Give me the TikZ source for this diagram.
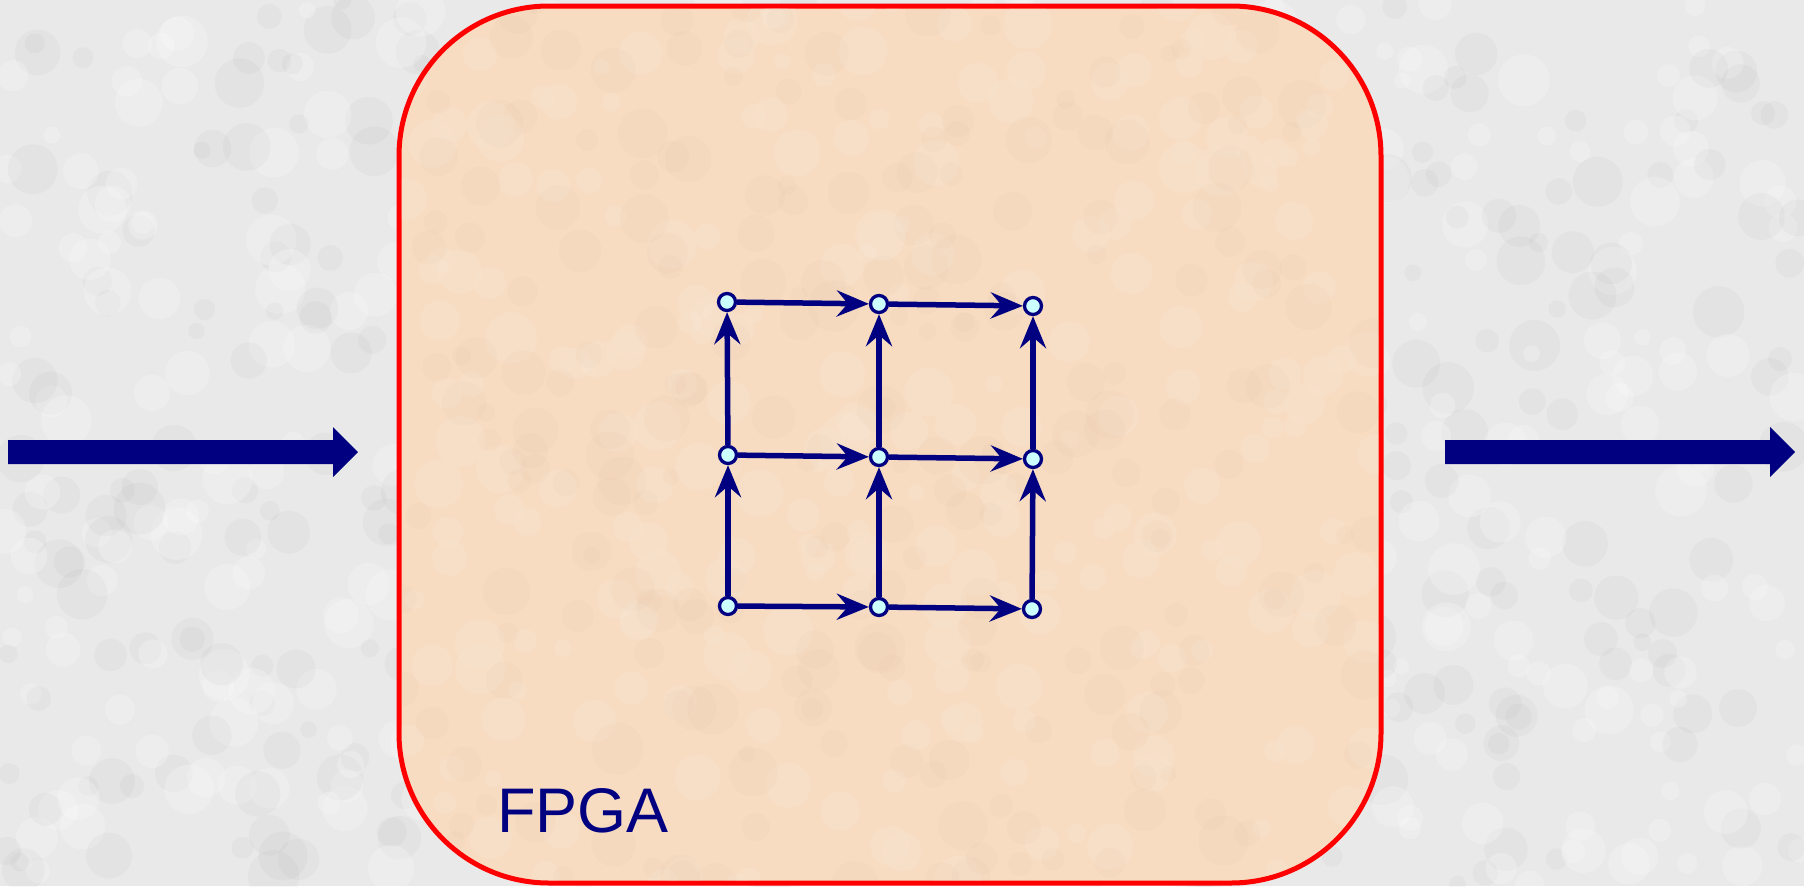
\documentclass[tikz,border=0pt]{standalone}
\usepackage{fontspec}
\setmainfont{Liberation Sans}
\usetikzlibrary{arrows.meta}
\definecolor{navy}{HTML}{000080}
\definecolor{peach}{HTML}{F7DCC2}
\definecolor{tan}{HTML}{D9B896}
\definecolor{bggray}{HTML}{E9E9E9}
\definecolor{dotfill}{HTML}{CCFFFF}
\tikzset{
  pt/.style={circle, draw=navy, fill=dotfill, line width=3.3pt, minimum size=17pt, inner sep=0pt},
  link/.style={draw=navy, line width=5.5pt, -{Stealth[length=32pt, width=26pt, inset=11pt]}},
  bigarrow/.style={fill=navy, draw=none},
  board/.style={draw=red, line width=5pt, fill=peach, rounded corners=150pt}
}
\begin{document}
\begin{tikzpicture}[x=1pt,y=-1pt]
\useasboundingbox (0,0) rectangle (1804,886);
\fill[bggray] (0,0) rectangle (1804,886);
\pgfmathsetseed{7}
\foreach \i in {1,...,900}{
  \pgfmathsetmacro{\px}{rnd*1804}
  \pgfmathsetmacro{\py}{rnd*886}
  \pgfmathsetmacro{\pr}{8+rnd*18}
  \pgfmathsetmacro{\pg}{rnd>0.5 ? 1 : 0}
  \ifdim\pg pt>0.5pt
    \fill[white, opacity=0.22] (\px,\py) circle[radius=\pr];
  \else
    \fill[black!40, opacity=0.07] (\px,\py) circle[radius=\pr];
  \fi
}
% FPGA board
\draw[board] (399,6) rectangle (1381,883);
\begin{scope}
\clip[rounded corners=150pt] (401,8) rectangle (1379,881);
\foreach \i in {1,...,500}{
  \pgfmathsetmacro{\px}{400+rnd*980}
  \pgfmathsetmacro{\py}{rnd*886}
  \pgfmathsetmacro{\pr}{8+rnd*18}
  \pgfmathsetmacro{\pg}{rnd>0.5 ? 1 : 0}
  \ifdim\pg pt>0.5pt
    \fill[white, opacity=0.08] (\px,\py) circle[radius=\pr];
  \else
    \fill[tan, opacity=0.07] (\px,\py) circle[radius=\pr];
  \fi
}
\end{scope}
\node[text=navy, font=\fontsize{63}{70}\selectfont, anchor=base west, inner sep=0pt] (label) at (497,832) {FPGA};
% grid nodes
\node[pt] (a) at (727,302) {};
\node[pt] (b) at (879,304) {};
\node[pt] (c) at (1033,306) {};
\node[pt] (d) at (728,455) {};
\node[pt] (e) at (879,457) {};
\node[pt] (f) at (1033,459) {};
\node[pt] (g) at (728,606) {};
\node[pt] (h) at (879,607) {};
\node[pt] (i) at (1032,609) {};
% links
\draw[link] (a) -- (b);
\draw[link] (b) -- (c);
\draw[link] (d) -- (e);
\draw[link] (e) -- (f);
\draw[link] (g) -- (h);
\draw[link] (h) -- (i);
\draw[link] (d) -- (a);
\draw[link] (g) -- (d);
\draw[link] (e) -- (b);
\draw[link] (h) -- (e);
\draw[link] (f) -- (c);
\draw[link] (i) -- (f);
% big arrows
\coordinate (inS) at (8,452);
\coordinate (outS) at (1445,452);
\fill[bigarrow] (inS) ++(0,-12) -- ++(325,0) -- ++(0,-13) -- ++(25,25) -- ++(-25,25) -- ++(0,-13) -- ++(-325,0) -- cycle;
\fill[bigarrow] (outS) ++(0,-12) -- ++(325,0) -- ++(0,-13) -- ++(25,25) -- ++(-25,25) -- ++(0,-13) -- ++(-325,0) -- cycle;
\end{tikzpicture}
\end{document}
